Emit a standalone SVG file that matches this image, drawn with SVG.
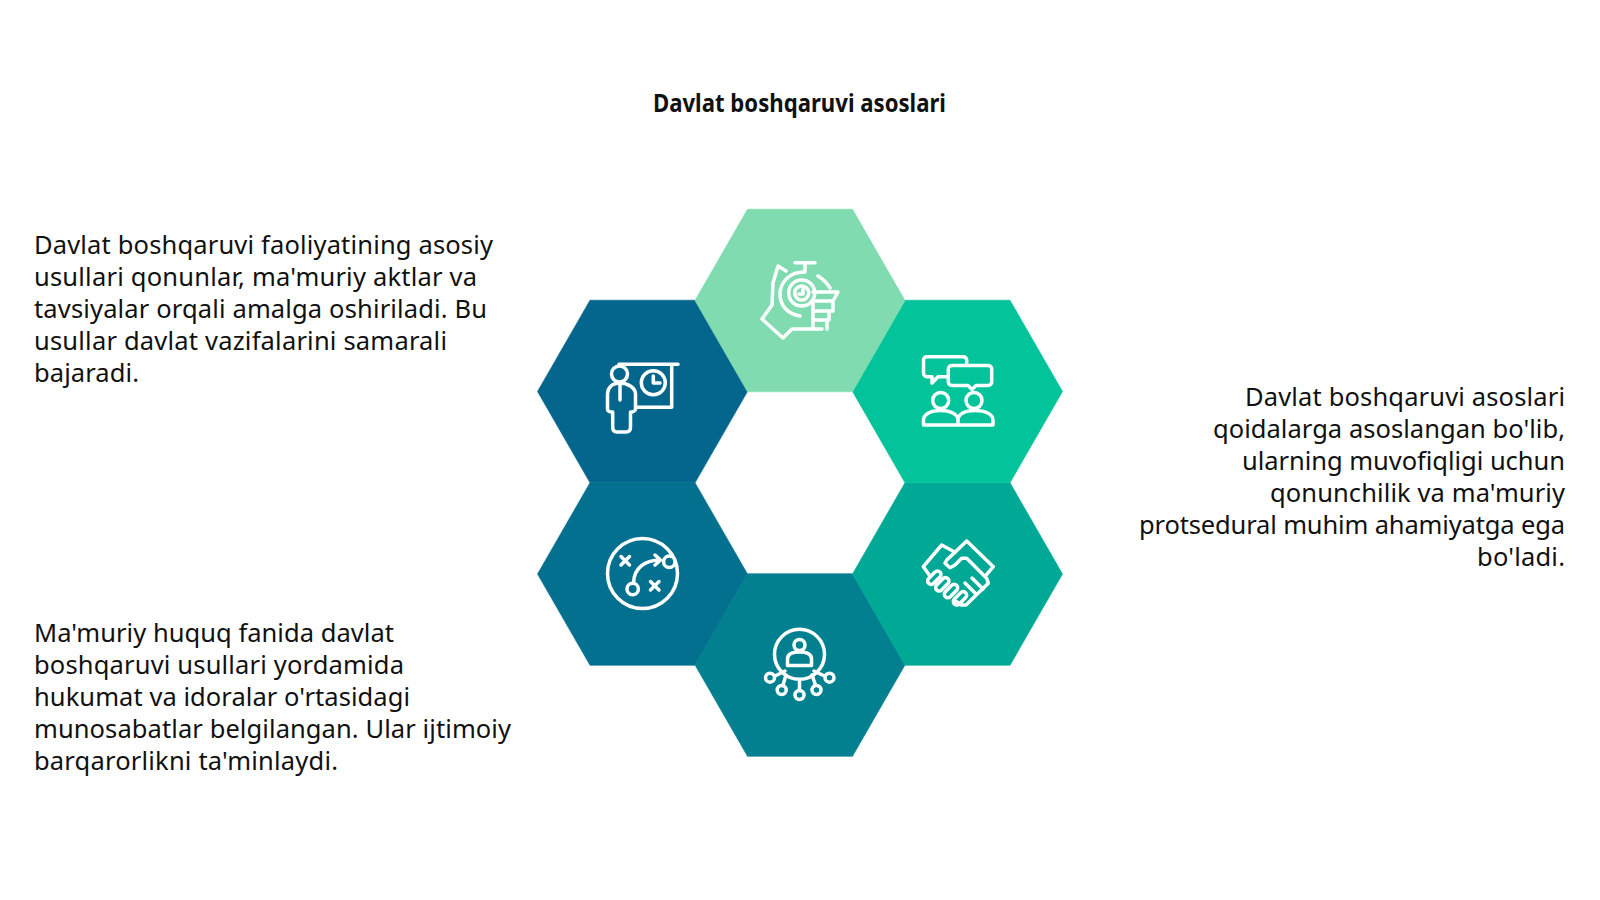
<svg xmlns="http://www.w3.org/2000/svg" width="1600" height="900" viewBox="0 0 1600 900">
<style>
.t{font-family:"Noto Sans","Open Sans","Liberation Sans",sans-serif;font-size:25.5px;fill:#111}
.h{font-family:"Noto Sans","Liberation Sans",sans-serif;font-size:25px;font-weight:700;fill:#111}
.i{fill:none;stroke:#fff;stroke-width:3.5;stroke-linecap:round;stroke-linejoin:round}
.f{stroke-width:.6}
</style>
<defs><polygon id="hx" points="-105,0 -52.5,-91.3 52.5,-91.3 105,0 52.5,91.3 -52.5,91.3"/></defs>
<rect width="1600" height="900" fill="#fff"/>
<text id="title" class="h" x="653" y="112" textLength="293" lengthAdjust="spacingAndGlyphs">Davlat boshqaruvi asoslari</text>
<g id="hex-upper-left"><use href="#hx" class="f" x="642.5" y="391.5" fill="#05668D" stroke="#05668D"/>
<g class="i"><path d="M619 364.3H678M671.7 364.3V407.3H636"/><circle cx="619.5" cy="374" r="8" fill="#05668D"/><path d="M620 383C612 383 607.5 388 607.5 394V409C607.5 411 610 412 612.7 412V427C612.7 430 614 432 617 432H626C629 432 630.5 430 630.5 427V412C633 412 635.5 411 635.5 409V394C635.5 388 628 383 620 383ZM620 383V400"/><circle cx="653.3" cy="382.7" r="12"/><path d="M653.3 376V383H660"/></g></g>
<g id="hex-lower-left"><use href="#hx" class="f" x="642.5" y="574" fill="#04708F" stroke="#04708F"/>
<g class="i"><circle cx="642.5" cy="573.5" r="35"/><circle cx="669.3" cy="561.7" r="5.7" fill="#04708F"/><circle cx="632.7" cy="589" r="5.7"/><path d="M621 556.5L629.5 565M629.5 556.5L621 565M650.5 581.5L659 590M659 581.5L650.5 590M633.7 582C634 569 644 560 660 560M655 555L660.5 560L655 565"/></g></g>
<g id="hex-bottom"><use href="#hx" class="f" x="800" y="665" fill="#028090" stroke="#028090"/>
<g class="i"><circle cx="799.5" cy="654.3" r="25"/><circle cx="799.5" cy="645" r="5.5"/><path d="M787.5 665.5V659C787.5 654 792 652 799.5 652C807 652 811.5 654 811.5 659V665.5Z"/><circle cx="770" cy="677.7" r="4.5"/><circle cx="781.7" cy="690" r="4.5"/><circle cx="799.5" cy="695" r="4.5"/><circle cx="816.5" cy="690" r="4.5"/><circle cx="829.5" cy="677.7" r="4.5"/><path d="M775 676L785 671M783 685L786 675M799.5 690.5V680M815.5 685L812 675M824.5 676L814 671"/></g></g>
<g id="hex-lower-right"><use href="#hx" class="f" x="957.5" y="574" fill="#00A896" stroke="#00A896"/>
<g class="i"><path d="M930 576L923.3 566.7L941.7 545L955 552.3L966.7 541L993.3 566.7L986.7 574.3"/><path d="M955 552.3L946.7 560L945 563.3L950 567.7L955 565L961.7 558.3H966.7L986.7 578.3L988.3 583.3L966 605H961L956 601"/><path d="M965 583L976 594M972 578L983 589"/><rect x="926.3" y="574.2" width="16" height="7" rx="3.5" transform="rotate(-45 934.3 577.7)"/><rect x="934.3" y="580.8" width="16" height="7" rx="3.5" transform="rotate(-45 942.3 584.3)"/><rect x="943" y="587.5" width="16" height="7" rx="3.5" transform="rotate(-45 951 591)"/><rect x="952" y="594.8" width="16" height="7" rx="3.5" transform="rotate(-45 960 598.3)"/></g></g>
<g id="hex-upper-right"><use href="#hx" class="f" x="957.5" y="391.5" fill="#02C39A" stroke="#02C39A"/>
<g class="i"><path d="M948 376.7H938L932 383V376.7H927C925 376.7 923.5 375 923.5 373V360C923.5 358 925 356.7 927 356.7H963C965 356.7 966.7 358 966.7 360V365.5"/><path d="M952 365.5H988C990 365.5 991.7 367 991.7 369V382C991.7 384 990 385.5 988 385.5H976L972 389.5L968 385.5H952C950 385.5 948.3 384 948.3 382V369C948.3 367 950 365.5 952 365.5Z"/><circle cx="940.7" cy="400.5" r="8"/><circle cx="974" cy="400.5" r="8"/><path d="M923.5 425V420C923.5 414 931 410.5 940.7 410.5C950 410.5 958 414 958 420V425ZM958 420C958 414 965 410.5 975 410.5C985 410.5 993 414 993 420V425H958"/></g></g>
<g id="hex-top"><use href="#hx" class="f" x="800" y="300.5" fill="#80DCB0" stroke="#80DCB0"/>
<g class="i"><path d="M795 262.7H815M805 263V272"/><circle cx="801.7" cy="293" r="7"/><circle cx="801.7" cy="293" r="13"/><path d="M804 272C789 272 780 283 780 294C780 306 788 314 800 316M818 276C823 279 827 283 830 288M786 271L778 266L773 283L772 305L762 319L783 338L792 329H822"/><path d="M803 289V294H799"/><path d="M813 292H838L833 301H813M813 301V328M813 311H831M833 302V311M813 320H828M829 311V320M827 320V329"/></g></g>
<g id="note-top-left" class="t">
<text x="34" y="253.5" textLength="459">Davlat boshqaruvi faoliyatining asosiy</text>
<text x="34" y="285.5" textLength="443">usullari qonunlar, ma'muriy aktlar va</text>
<text x="34" y="317.5" textLength="453">tavsiyalar orqali amalga oshiriladi. Bu</text>
<text x="34" y="349.5" textLength="413">usullar davlat vazifalarini samarali</text>
<text x="34" y="381.5" textLength="105">bajaradi.</text>
</g>
<g id="note-bottom-left" class="t">
<text x="34" y="642" textLength="360">Ma'muriy huquq fanida davlat</text>
<text x="34" y="674" textLength="370">boshqaruvi usullari yordamida</text>
<text x="34" y="706" textLength="376">hukumat va idoralar o'rtasidagi</text>
<text x="34" y="738" textLength="477">munosabatlar belgilangan. Ular ijtimoiy</text>
<text x="34" y="769.5" textLength="304">barqarorlikni ta'minlaydi.</text>
</g>
<g id="note-right" class="t" text-anchor="end">
<text x="1565" y="406" textLength="320">Davlat boshqaruvi asoslari</text>
<text x="1565" y="438" textLength="352">qoidalarga asoslangan bo'lib,</text>
<text x="1565" y="470" textLength="323">ularning muvofiqligi uchun</text>
<text x="1565" y="502" textLength="295">qonunchilik va ma'muriy</text>
<text x="1565" y="534" textLength="426">protsedural muhim ahamiyatga ega</text>
<text x="1565" y="566" textLength="88">bo'ladi.</text>
</g>
</svg>
